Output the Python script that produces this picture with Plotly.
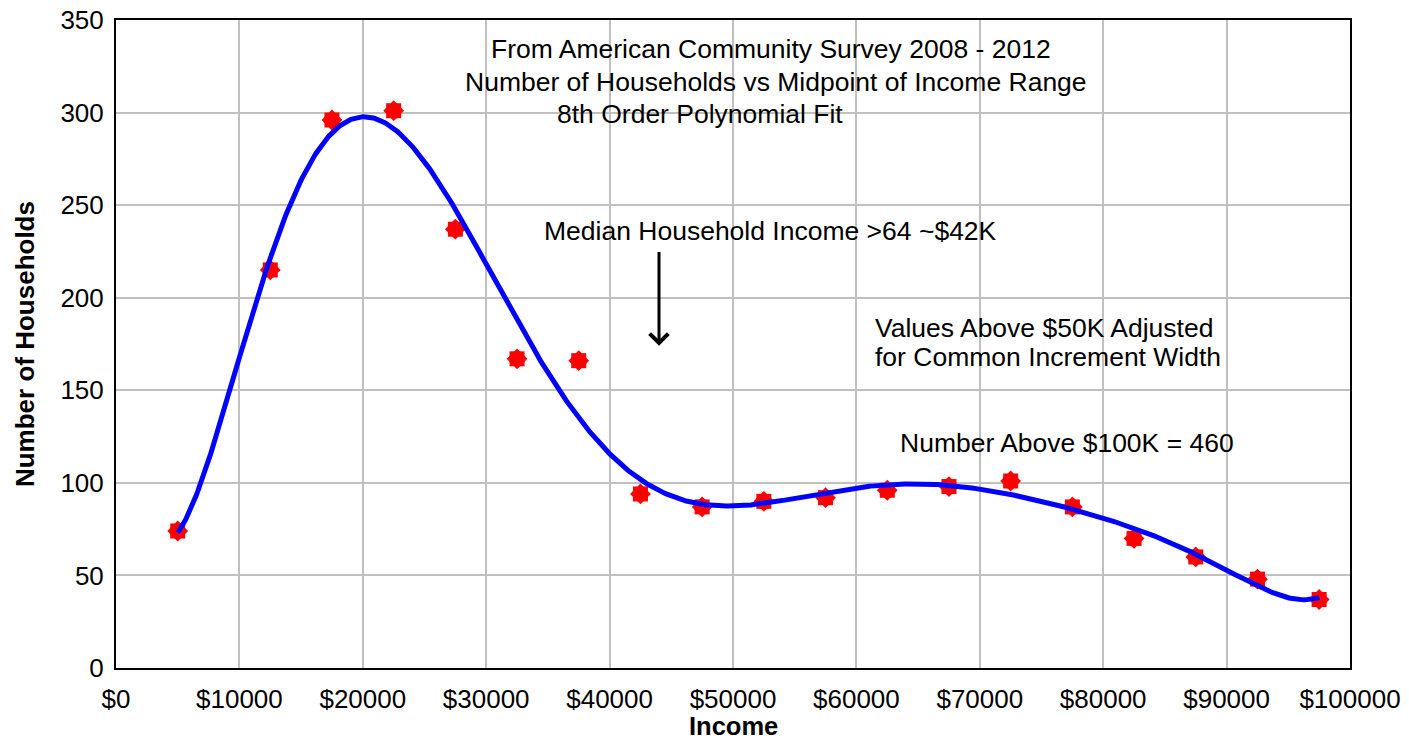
import numpy as np
import plotly.graph_objects as go

# Data
income_mid = [5000, 12500, 17500, 22500, 27500, 32500, 37500, 42500, 47500, 52500,
              57500, 62500, 67500, 72500, 77500, 82500, 87500, 92500, 97500]
households = [74, 215, 296, 301, 237, 167, 166, 94, 87, 90,
              92, 96, 98, 101, 87, 70, 60, 48, 37]
x_ticks = [0, 10000, 20000, 30000, 40000, 50000, 60000, 70000, 80000, 90000, 100000]
x_tick_labels = ["$0", "$10000", "$20000", "$30000", "$40000", "$50000",
                 "$60000", "$70000", "$80000", "$90000", "$100000"]
y_ticks = [0, 50, 100, 150, 200, 250, 300, 350]

# 8th order polynomial fit of the data (as in the chart)
xs = np.array(income_mid, dtype=float) / 100000.0
coef = np.polyfit(xs, np.array(households, dtype=float), 8)
x_fit = np.linspace(income_mid[0], income_mid[-1], 800)
y_fit = np.polyval(coef, x_fit / 100000.0)

FONT = "Liberation Sans, Arial, sans-serif"

fig = go.Figure()
fig.add_trace(go.Scatter(x=income_mid, y=households, mode="markers",
                         marker=dict(symbol="square", size=15, color="#ff0000",
                                     line=dict(width=0)),
                         hoverinfo="skip", showlegend=False))
fig.add_trace(go.Scatter(x=income_mid, y=households, mode="markers",
                         marker=dict(symbol="diamond", size=16, color="#ff0000",
                                     line=dict(width=0)),
                         showlegend=False))
fig.add_trace(go.Scatter(x=x_fit, y=y_fit, mode="lines",
                         line=dict(color="#0000ff", width=5),
                         showlegend=False))

ann_font = dict(family=FONT, size=26.5, color="black")
annotations = [
    dict(x=53100, y=334.5, text="From American Community Survey 2008 - 2012",
         xanchor="center", yanchor="middle"),
    dict(x=53500, y=316.3, text="Number of Households vs Midpoint of Income Range",
         xanchor="center", yanchor="middle"),
    dict(x=35600, y=299.5, text="8th Order Polynomial Fit",
         xanchor="left", yanchor="middle"),
    dict(x=53000, y=235.8, text="Median Household Income >64 ~$42K",
         xanchor="center", yanchor="middle"),
    dict(x=61345, y=183.5, text="Values Above $50K Adjusted",
         xanchor="left", yanchor="middle"),
    dict(x=61345, y=167.8, text="for Common Increment Width",
         xanchor="left", yanchor="middle"),
    dict(x=63371, y=121.6, text="Number Above $100K = 460",
         xanchor="left", yanchor="middle"),
]
for a in annotations:
    a.update(xref="x", yref="y", showarrow=False, font=ann_font)
annotations.append(dict(x=44003, y=174.0, ax=44003, ay=225.5, xref="x", yref="y",
                        axref="x", ayref="y", text="", showarrow=True,
                        arrowhead=4, arrowsize=1.2, arrowwidth=3,
                        arrowcolor="black", standoff=0, startstandoff=0))
# axis titles
annotations.append(dict(x=0.5, y=-0.0895, xref="paper", yref="paper",
                        text="<b>Income</b>", showarrow=False,
                        xanchor="center", yanchor="middle",
                        font=dict(family=FONT, size=25.5, color="black")))
annotations.append(dict(x=-0.0737, y=0.5, xref="paper", yref="paper",
                        text="<b>Number of Households</b>", showarrow=False,
                        textangle=-90, xanchor="center", yanchor="middle",
                        font=dict(family=FONT, size=26, color="black")))

fig.update_layout(
    width=1409, height=742,
    margin=dict(l=116, r=59, t=20, b=74, autoexpand=False),
    paper_bgcolor="white", plot_bgcolor="white",
    font=dict(family=FONT, size=26, color="black"),
    annotations=annotations,
    showlegend=False,
)
fig.update_xaxes(range=[0, 100000], tickvals=x_ticks, ticktext=x_tick_labels,
                 showgrid=True, gridcolor="#c0c0c0", gridwidth=2,
                 showline=True, linecolor="black", linewidth=2, mirror=True,
                 ticks="", zeroline=False, ticklabelstandoff=7, automargin=False,
                 tickfont=dict(family=FONT, size=26))
fig.update_yaxes(range=[0, 350], tickvals=y_ticks,
                 showgrid=True, gridcolor="#c0c0c0", gridwidth=2,
                 showline=True, linecolor="black", linewidth=2, mirror=True,
                 ticks="", zeroline=False, ticklabelstandoff=5, automargin=False,
                 tickfont=dict(family=FONT, size=26))

fig.write_html("out.html", config={"displayModeBar": False},
               post_script="document.body.style.margin='0';document.body.style.overflow='hidden';")
